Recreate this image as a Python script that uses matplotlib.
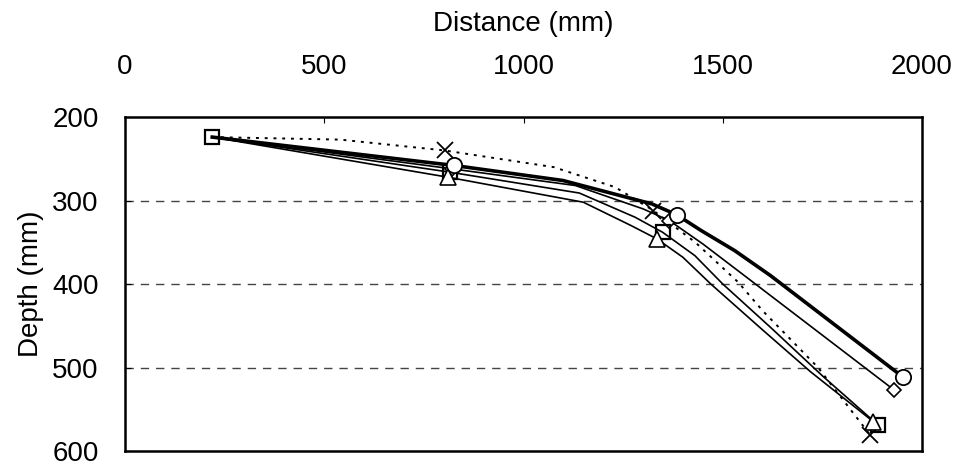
import matplotlib.pyplot as plt

plt.rcParams['font.family'] = ['Liberation Sans', 'DejaVu Sans']

# distance (mm) and depth (mm) for each profile; marked points listed separately
circ_x = [219, 826, 1099, 1322, 1384, 1446, 1530, 1620, 1951]
circ_y = [224, 258, 276, 304, 317, 336, 360, 390, 511]
circ_marks = [1, 4, 8]

diam_x = [219, 820, 1130, 1300, 1366, 1450, 1560, 1930]
diam_y = [224, 262, 282, 310, 324, 352, 392, 527]
diam_marks = [1, 4, 7]

sq_x = [219, 815, 1140, 1280, 1349, 1430, 1500, 1620, 1750, 1890]
sq_y = [224, 266, 291, 320, 338, 366, 400, 452, 510, 569]
sq_marks = [0, 1, 4, 9]

tri_x = [219, 810, 1150, 1270, 1335, 1400, 1470, 1600, 1720, 1878]
tri_y = [224, 272, 302, 330, 346, 368, 400, 455, 505, 565]
tri_marks = [1, 4, 9]

x_x = [219, 540, 802, 1076, 1230, 1326, 1431, 1539, 1600, 1739, 1870]
x_y = [224, 227, 240, 260, 284, 312, 350, 398, 432, 500, 581]
x_marks = [2, 5, 10]

fig = plt.figure(figsize=(9.65, 4.69), dpi=100)
ax = fig.add_axes([0.1295, 0.0384, 0.826, 0.712])

ax.plot(circ_x, circ_y, color='black', lw=2.6, marker='o', markevery=circ_marks,
        ms=11, mfc='white', mew=1.3, zorder=5)
ax.plot(diam_x, diam_y, color='black', lw=1.2, marker='D', markevery=diam_marks,
        ms=7, mfc='white', mew=1.2, zorder=4)
ax.plot(sq_x, sq_y, color='black', lw=1.2, marker='s', markevery=sq_marks,
        ms=10, mfc='none', mew=1.6, zorder=4)
ax.plot(tri_x, tri_y, color='black', lw=1.2, marker='^', markevery=tri_marks,
        ms=11, mfc='white', mew=1.2, zorder=4)
ax.plot(x_x, x_y, color='black', lw=1.4, ls=(0, (1.5, 3)), marker='x', markevery=x_marks,
        ms=11, mew=1.3, zorder=3)

ax.set_xlim(0, 2000)
ax.set_ylim(600, 200)
ax.set_xticks([0, 500, 1000, 1500, 2000])
ax.set_yticks([200, 300, 400, 500, 600])
ax.xaxis.tick_top()
ax.xaxis.set_label_position('top')
ax.tick_params(axis='x', direction='in', length=4, pad=27, labelsize=20)
ax.tick_params(axis='y', direction='in', length=4, pad=19, labelsize=20)
ax.set_xlabel('Distance (mm)', fontsize=20, labelpad=16)
ax.set_ylabel('Depth (mm)', fontsize=20, labelpad=6)

for d in [300, 400, 500]:
    ax.axhline(d, color='#444444', lw=1, ls=(0, (6, 5)), zorder=1)

for s in ax.spines.values():
    s.set_linewidth(1.8)

fig.savefig('out.png', dpi=100)
